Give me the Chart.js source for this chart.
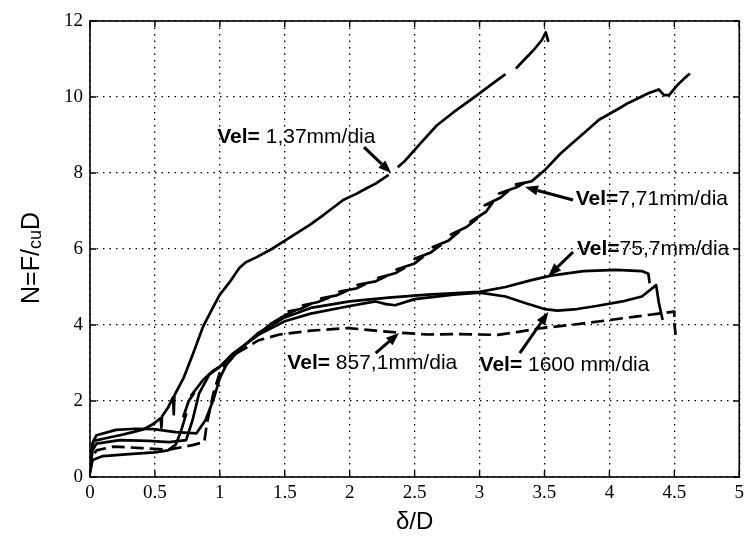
<!DOCTYPE html>
<html>
<head>
<meta charset="utf-8">
<script src="https://cdn.jsdelivr.net/npm/chart.js@4.4.0/dist/chart.umd.min.js"></script>
<style>
  html, body { margin: 0; padding: 0; background: #fff; }
  #c { display: block; }
</style>
</head>
<body>
<canvas id="c" width="749" height="541"></canvas>
<script>
// Axis ticks
const xTicks = [0, 0.5, 1, 1.5, 2, 2.5, 3, 3.5, 4, 4.5, 5];
const yTicks = [0, 2, 4, 6, 8, 10, 12];

// Normalised load N = F/(cu D) against normalised displacement δ/D, one curve per velocity.
// A null y breaks the trace.
const vel137 = [
  [0, 0.15], [0.01, 0.7], [0.03, 0.95], [0.12, 1.02], [0.23, 1.1], [0.33, 1.18], [0.41, 1.25],
  [0.48, 1.38], [0.545, 1.55], [0.55, 1.3], [0.555, 1.6], [0.6, 1.82], [0.64, 2.1], [0.645, 1.65],
  [0.65, 2.15], [0.72, 2.6], [0.8, 3.3], [0.87, 3.95], [0.93, 4.35], [1.0, 4.8], [1.08, 5.15],
  [1.15, 5.5], [1.2, 5.65], [1.28, 5.78], [1.4, 6.0], [1.51, 6.24], [1.69, 6.63], [1.8, 6.9],
  [1.95, 7.29], [2.05, 7.45], [2.13, 7.6], [2.2, 7.72], [2.3, 7.95], [2.33, null],
  [2.37, 8.15], [2.42, 8.3], [2.55, 8.8], [2.67, 9.25], [2.8, 9.6], [2.95, 9.97], [3.1, 10.35],
  [3.2, 10.6], [3.24, null], [3.28, 10.75], [3.35, 11.0], [3.42, 11.25], [3.48, 11.5],
  [3.51, 11.7], [3.53, 11.45]
];
const vel771 = [
  [0, 0.1], [0.02, 0.45], [0.1, 0.55], [0.3, 0.6], [0.5, 0.65], [0.6, 0.7], [0.66, 0.85],
  [0.7, 1.2], [0.74, 1.65], [0.72, 1.6], [0.76, 2.0], [0.8, 2.2], [0.78, 2.15], [0.87, 2.55],
  [0.95, 2.8], [1.02, 2.95], [1.1, 3.2], [1.2, 3.5], [1.28, 3.7], [1.4, 4.05], [1.5, 4.25],
  [1.58, 4.38], [1.53, 4.36], [1.62, 4.42], [1.7, 4.55], [1.64, 4.52], [1.75, 4.6], [1.84, 4.72],
  [1.78, 4.7], [1.9, 4.78], [1.98, 4.9], [1.92, 4.88], [2.05, 4.96], [2.12, 5.08], [2.06, 5.06],
  [2.2, 5.15], [2.28, 5.28], [2.22, 5.24], [2.35, 5.36], [2.42, 5.5], [2.36, 5.46], [2.5, 5.62],
  [2.56, 5.78], [2.5, 5.74], [2.62, 5.9], [2.7, 6.1], [2.64, 6.05], [2.76, 6.22], [2.84, 6.45],
  [2.78, 6.38], [2.9, 6.58], [2.98, 6.8], [2.93, 6.72], [3.05, 6.98], [3.1, 7.22], [3.04, 7.15],
  [3.16, 7.35], [3.22, 7.52], [3.15, 7.46], [3.28, 7.62], [3.34, 7.72], [3.28, 7.7], [3.4, 7.78],
  [3.51, 8.1], [3.62, 8.5], [3.72, 8.8], [3.82, 9.1], [3.92, 9.4], [4.05, 9.65], [4.15, 9.85],
  [4.3, 10.1], [4.38, 10.2], [4.42, 10.05], [4.46, 10.05], [4.52, 10.3], [4.58, 10.5], [4.62, 10.62]
];
const vel757 = [
  [0, 0.3], [0.02, 0.9], [0.05, 1.1], [0.2, 1.24], [0.35, 1.27], [0.49, 1.26], [0.66, 1.18],
  [0.82, 1.15], [0.89, 1.5], [0.95, 2.03], [1.0, 2.6], [1.05, 2.95], [1.15, 3.35], [1.3, 3.8],
  [1.5, 4.2], [1.7, 4.45], [2.0, 4.62], [2.3, 4.72], [2.6, 4.8], [3.0, 4.87], [3.2, 5.0],
  [3.4, 5.18], [3.55, 5.3], [3.8, 5.42], [4.05, 5.45], [4.25, 5.42], [4.3, 5.35], [4.31, 5.1]
];
const vel1600 = [
  [0, 0.2], [0.02, 0.7], [0.05, 0.88], [0.23, 0.97], [0.45, 0.95], [0.61, 0.92], [0.74, 0.97],
  [0.79, 1.5], [0.84, 2.2], [0.92, 2.7], [1.0, 2.9], [1.1, 3.25], [1.3, 3.75], [1.5, 4.1],
  [1.7, 4.3], [2.0, 4.5], [2.2, 4.62], [2.28, 4.55], [2.35, 4.52], [2.5, 4.68], [2.8, 4.8],
  [3.0, 4.85], [3.2, 4.75], [3.35, 4.58], [3.5, 4.42], [3.6, 4.38], [3.75, 4.42], [3.9, 4.5],
  [4.1, 4.62], [4.25, 4.75], [4.36, 5.05], [4.38, 4.6], [4.41, 4.13]
];
const vel8571 = [
  [0, 0.15], [0.02, 0.55], [0.05, 0.7], [0.18, 0.8], [0.4, 0.76], [0.61, 0.72], [0.79, 0.84],
  [0.88, 0.92], [0.9, 1.4], [0.95, 2.2], [1.0, 2.75], [1.1, 3.2], [1.3, 3.6], [1.46, 3.75],
  [1.7, 3.85], [1.99, 3.92], [2.2, 3.85], [2.37, 3.8], [2.6, 3.75], [2.85, 3.76], [3.14, 3.74],
  [3.3, 3.82], [3.48, 3.92], [3.75, 4.02], [4.0, 4.13], [4.2, 4.22], [4.38, 4.3], [4.5, 4.35],
  [4.5, 4.05], [4.51, 3.74]
];

// Curve labels with arrows (data units): text anchor (left, middle), arrow tail, arrow tip
const callouts = [
  { head: 'Vel=', rest: ' 1,37mm/dia', at: [0.98, 8.95], from: [2.11, 8.68], to: [2.32, 8.0] },
  { head: 'Vel=', rest: '7,71mm/dia',  at: [3.74, 7.32], from: [3.72, 7.29], to: [3.35, 7.63] },
  { head: 'Vel=', rest: '75,7mm/dia',  at: [3.75, 6.0],  from: [3.72, 5.92], to: [3.53, 5.29] },
  { head: 'Vel=', rest: ' 857,1mm/dia', at: [1.52, 3.0], from: [2.2, 3.26],  to: [2.38, 3.79] },
  { head: 'Vel=', rest: ' 1600 mm/dia', at: [3.0, 2.95], from: [3.31, 3.26], to: [3.53, 4.34] }
];

const toPts = arr => arr.map(([x, y]) => ({ x, y }));

const lineSet = (data, dash) => ({
  data: toPts(data),
  showLine: true,
  borderColor: '#000',
  borderWidth: 2.7,
  borderDash: dash || [],
  borderJoinStyle: 'round',
  pointRadius: 0,
  tension: 0,
  spanGaps: false,
  fill: false
});

// Box outline, inward tick marks, axis titles and callouts
const decor = {
  id: 'decor',
  afterDatasetsDraw(chart) {
    const { ctx, chartArea: a, scales: { x, y } } = chart;
    ctx.save();
    ctx.strokeStyle = '#000';
    ctx.lineWidth = 1.6;
    ctx.strokeRect(a.left, a.top, a.right - a.left, a.bottom - a.top);

    ctx.lineWidth = 1.4;
    ctx.beginPath();
    const t = 6;
    xTicks.forEach(v => {
      const px = x.getPixelForValue(v);
      ctx.moveTo(px, a.bottom); ctx.lineTo(px, a.bottom - t);
      ctx.moveTo(px, a.top); ctx.lineTo(px, a.top + t);
    });
    yTicks.forEach(v => {
      const py = y.getPixelForValue(v);
      ctx.moveTo(a.left, py); ctx.lineTo(a.left + t, py);
      ctx.moveTo(a.right, py); ctx.lineTo(a.right - t, py);
    });
    ctx.stroke();

    // callouts
    ctx.fillStyle = '#000';
    ctx.textBaseline = 'middle';
    ctx.textAlign = 'left';
    callouts.forEach(c => {
      const tx = x.getPixelForValue(c.at[0]);
      const ty = y.getPixelForValue(c.at[1]);
      ctx.font = 'bold 21px "Liberation Sans", Arial, sans-serif';
      ctx.fillText(c.head, tx, ty);
      const w = ctx.measureText(c.head).width;
      ctx.font = '21px "Liberation Sans", Arial, sans-serif';
      ctx.fillText(c.rest, tx + w, ty);

      const x0 = x.getPixelForValue(c.from[0]), y0 = y.getPixelForValue(c.from[1]);
      const x1 = x.getPixelForValue(c.to[0]), y1 = y.getPixelForValue(c.to[1]);
      const ang = Math.atan2(y1 - y0, x1 - x0);
      const hl = 13, hw = 5;
      const bx = x1 - hl * Math.cos(ang), by = y1 - hl * Math.sin(ang);
      ctx.lineWidth = 3;
      ctx.beginPath();
      ctx.moveTo(x0, y0); ctx.lineTo(bx, by);
      ctx.stroke();
      ctx.beginPath();
      ctx.moveTo(x1, y1);
      ctx.lineTo(bx + hw * Math.sin(ang), by - hw * Math.cos(ang));
      ctx.lineTo(bx - hw * Math.sin(ang), by + hw * Math.cos(ang));
      ctx.closePath();
      ctx.fill();
    });

    // x title
    ctx.textAlign = 'center';
    ctx.font = '24px "Liberation Sans", Arial, sans-serif';
    ctx.fillText('δ/D', (a.left + a.right) / 2, 522);

    // y title, rotated, with the small "cu"
    ctx.translate(30, 258);
    ctx.rotate(-Math.PI / 2);
    const big = '25px "Liberation Sans", Arial, sans-serif';
    const small = '18px "Liberation Sans", Arial, sans-serif';
    ctx.font = big;
    const w1 = ctx.measureText('N=F/').width;
    const w3 = ctx.measureText('D').width;
    ctx.font = small;
    const w2 = ctx.measureText('cu').width;
    const sx = -(w1 + w2 + w3) / 2;
    ctx.textAlign = 'left';
    ctx.textBaseline = 'alphabetic';
    ctx.font = big;
    ctx.fillText('N=F/', sx, 9);
    ctx.font = small;
    ctx.fillText('cu', sx + w1, 11);
    ctx.font = big;
    ctx.fillText('D', sx + w1 + w2, 9);
    ctx.restore();
  }
};

const tickFont = { family: '"Liberation Serif", "Times New Roman", serif', size: 19 };

new Chart(document.getElementById('c'), {
  type: 'scatter',
  data: {
    datasets: [
      lineSet(vel137),
      lineSet(vel771),
      lineSet(vel757),
      lineSet(vel1600),
      lineSet(vel8571, [13, 6])
    ]
  },
  options: {
    responsive: false,
    animation: false,
    layout: { padding: { left: 0, right: 7, top: 21, bottom: 0 } },
    plugins: { legend: { display: false }, tooltip: { enabled: false } },
    scales: {
      x: {
        type: 'linear', min: 0, max: 5,
        afterBuildTicks: s => { s.ticks = xTicks.map(v => ({ value: v })); },
        afterFit: s => { s.height = 64; },
        ticks: { color: '#000', font: tickFont, padding: 5, maxRotation: 0, autoSkip: false,
                 callback: v => String(v) },
        grid: { color: '#000', lineWidth: 1.3, drawTicks: false },
        border: { display: false, dash: [1.5, 5] }
      },
      y: {
        type: 'linear', min: 0, max: 12,
        afterBuildTicks: s => { s.ticks = yTicks.map(v => ({ value: v })); },
        afterFit: s => { s.width = 90; },
        ticks: { color: '#000', font: tickFont, padding: 7, autoSkip: false,
                 callback: v => String(v) },
        grid: { color: '#000', lineWidth: 1.3, drawTicks: false },
        border: { display: false, dash: [1.5, 5] }
      }
    }
  },
  plugins: [decor]
});
</script>
</body>
</html>
